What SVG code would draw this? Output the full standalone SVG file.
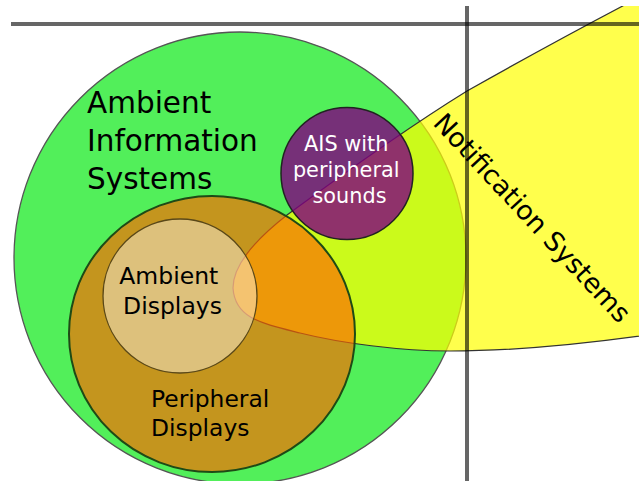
<svg xmlns="http://www.w3.org/2000/svg" width="639" height="481" viewBox="0 0 639 481">
  <style>
    .lbl { font-family: "DejaVu Sans", "Liberation Sans", sans-serif; fill: #000; }
    .wlbl { font-family: "DejaVu Sans", "Liberation Sans", sans-serif; fill: #fff; }
    .axis { stroke: #000; stroke-opacity: 0.6; stroke-width: 4; fill: none; }
  </style>
  <defs>
    <clipPath id="frame"><rect x="0" y="6" width="639" height="475"/></clipPath>
  </defs>
  <rect x="0" y="0" width="639" height="481" fill="#fff"/>
  <g clip-path="url(#frame)">
    <g id="ambient-information-systems">
      <circle cx="240" cy="258" r="226" fill="#52ef5a" stroke="#555" stroke-width="1.3"/>
    </g>
    <g id="notification-systems">
      <path d="M 233,288 C 233,265 255,240 287,215 C 347,171 407,128 467,91 C 545,47 623,5 700,-34 L 700,327 C 620,340 530,351 450,351 C 400,351 340,343 300,333 C 260,323 235,318 233,288 Z" fill="#ffff00" fill-opacity="0.7" stroke="#333" stroke-width="1.2"/>
    </g>
    <g id="peripheral-displays">
      <ellipse cx="212" cy="334" rx="143" ry="138" fill="#ff6600" fill-opacity="0.66" stroke="#1e4a16" stroke-width="2"/>
    </g>
    <g id="ambient-displays">
      <circle cx="180" cy="296" r="77" fill="#fff" fill-opacity="0.42" stroke="#5a4818" stroke-width="1.3"/>
    </g>
    <g id="ais-peripheral-sounds">
      <circle cx="347" cy="173.5" r="66" fill="#800080" fill-opacity="0.8" stroke="#222" stroke-width="1.5"/>
    </g>
    <g id="axes">
      <line class="axis" x1="11" y1="24" x2="639" y2="24"/>
      <line class="axis" x1="467" y1="0" x2="467" y2="481"/>
    </g>
  </g>
  <g id="labels">
    <text class="lbl" font-size="29.5">
      <tspan x="87" y="113">Ambient</tspan>
      <tspan x="87" y="151">Information</tspan>
      <tspan x="87" y="188.5">Systems</tspan>
    </text>
    <text class="wlbl" font-size="20.8" text-anchor="middle">
      <tspan x="349.5" y="151">AIS with</tspan>
      <tspan x="349.5" y="177">peripheral</tspan>
      <tspan x="349.5" y="203">sounds</tspan>
    </text>
    <text class="lbl" font-size="23.5" text-anchor="middle">
      <tspan x="172.5" y="283.5">Ambient</tspan>
      <tspan x="172.5" y="313.5">Displays</tspan>
    </text>
    <text class="lbl" font-size="23.4">
      <tspan x="151" y="406.5">Peripheral</tspan>
      <tspan x="151" y="436">Displays</tspan>
    </text>
    <text class="lbl" font-size="26.6" transform="translate(432,124) rotate(47)">Notification Systems</text>
  </g>
</svg>
